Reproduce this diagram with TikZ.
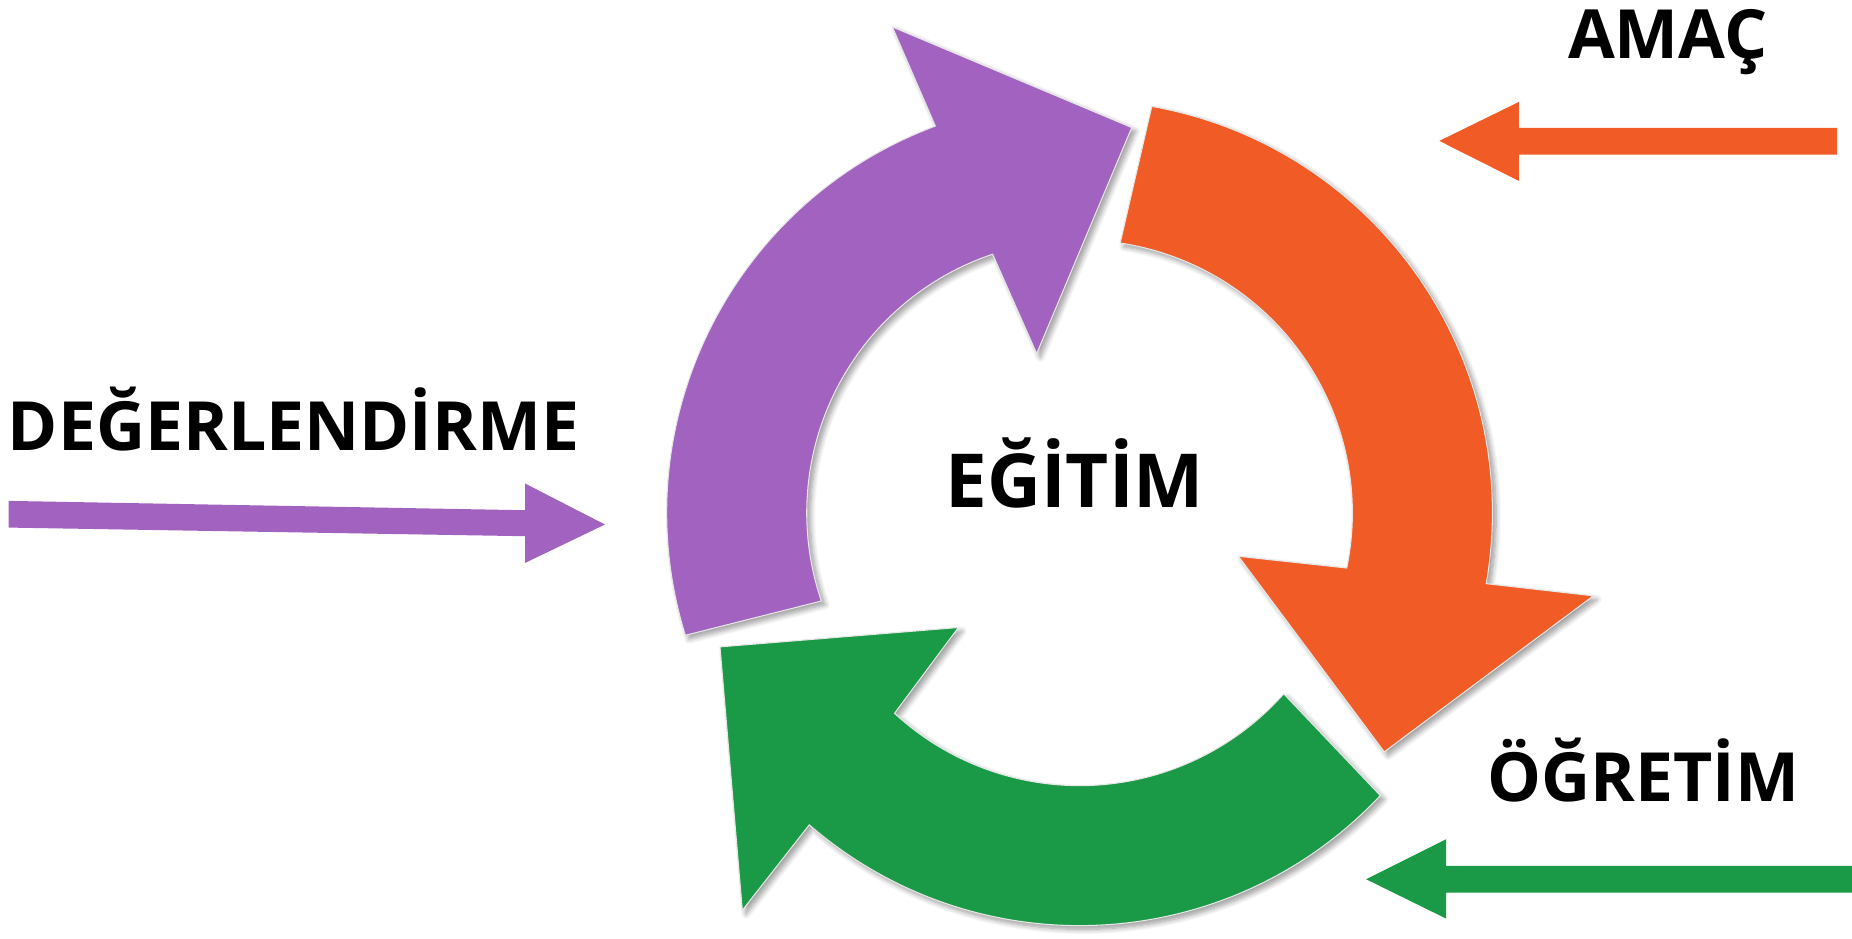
\documentclass[tikz,border=0pt]{standalone}
\usepackage{fontspec}
\setmainfont{Open Sans}
\usetikzlibrary{calc,shadows.blur}
\definecolor{aorange}{RGB}{240,91,38}
\definecolor{apurple}{RGB}{162,98,192}
\definecolor{agreen}{RGB}{26,154,70}
\tikzset{
  cyc/.style={draw=white!82!gray, line width=0.5pt, line join=miter,
    blur shadow={shadow xshift=1.8pt, shadow yshift=-1.8pt, shadow blur steps=8,
      shadow blur radius=2.5pt, shadow opacity=40}},
  lbl/.style={inner sep=0pt, anchor=base, font=\fontsize{32.7}{36}\selectfont\bfseries},
  biglbl/.style={lbl, font=\fontsize{35.9}{40}\selectfont\bfseries},
}
\begin{document}
\begin{tikzpicture}[x=0.02cm,y=0.02cm]
\useasboundingbox (0,0) rectangle (1568,794.2);
\coordinate (cen) at (914,360);
% orange circular arrow
\coordinate (oho) at (1349,289.7);
\coordinate (ot) at (1172,157.6);
\coordinate (ohi) at (1048.5,323.2);
\path[fill=aorange, cyc] ($(cen)+(79.92:349.5)$) arc[start angle=79.92, end angle=-9.88, radius=349.5]
  -- (oho) -- (ot) -- (ohi) -- ($(cen)+(-11.67:231)$) arc[start angle=-11.67, end angle=81.44, radius=231] -- cycle;
% green circular arrow
\coordinate (gho) at (628.5,23.5);
\coordinate (gt) at (609.6,246.5);
\coordinate (ghi) at (811.4,262.9);
\path[fill=agreen, cyc] ($(cen)+(-43.23:349.5)$) arc[start angle=-43.23, end angle=-130.9, radius=349.5]
  -- (gho) -- (gt) -- (ghi) -- ($(cen)+(-132.7:231)$) arc[start angle=-132.7, end angle=-41.55, radius=231] -- cycle;
% purple circular arrow
\coordinate (pho) at (755.5,771.4);
\coordinate (pt) at (958.2,686.2);
\coordinate (phi) at (877.7,494.8);
\path[fill=apurple, cyc] ($(cen)+(197.26:349.5)$) arc[start angle=197.26, end angle=110.45, radius=349.5]
  -- (pho) -- (pt) -- (phi) -- ($(cen)+(108.58:231)$) arc[start angle=108.58, end angle=198.86, radius=231] -- cycle;
% labels
\node[lbl] (amac) at (1412,744.6) {AMAÇ};
\node[lbl] (deg) at (248.5,413) {DEĞERLENDİRME};
\node[biglbl] (egitim) at (910,364.4) {EĞİTİM};
\node[lbl] (ogr) at (1391.5,115.3) {ÖĞRETİM};
% straight arrows
\coordinate (atip) at (1218.6,674.9);
\fill[aorange] (1555.4,685.9) -- (1286,685.9) -- (1286,707.9) -- (atip) -- (1286,641) -- (1286,663.3) -- (1555.4,663.3) -- cycle;
\coordinate (gtip) at (1156.6,49.8);
\fill[agreen] (1575,61.1) -- (1224.3,61.1) -- (1224.3,83.6) -- (gtip) -- (1224.3,16.5) -- (1224.3,38.5) -- (1575,38.5) -- cycle;
\coordinate (ptip) at (512.2,350.1);
\fill[apurple] (7.4,370.1) -- (444.6,362.2) -- (444.6,384.8) -- (ptip) -- (444.6,317.6) -- (444.6,340.2) -- (7.4,347.5) -- cycle;
\end{tikzpicture}
\end{document}
